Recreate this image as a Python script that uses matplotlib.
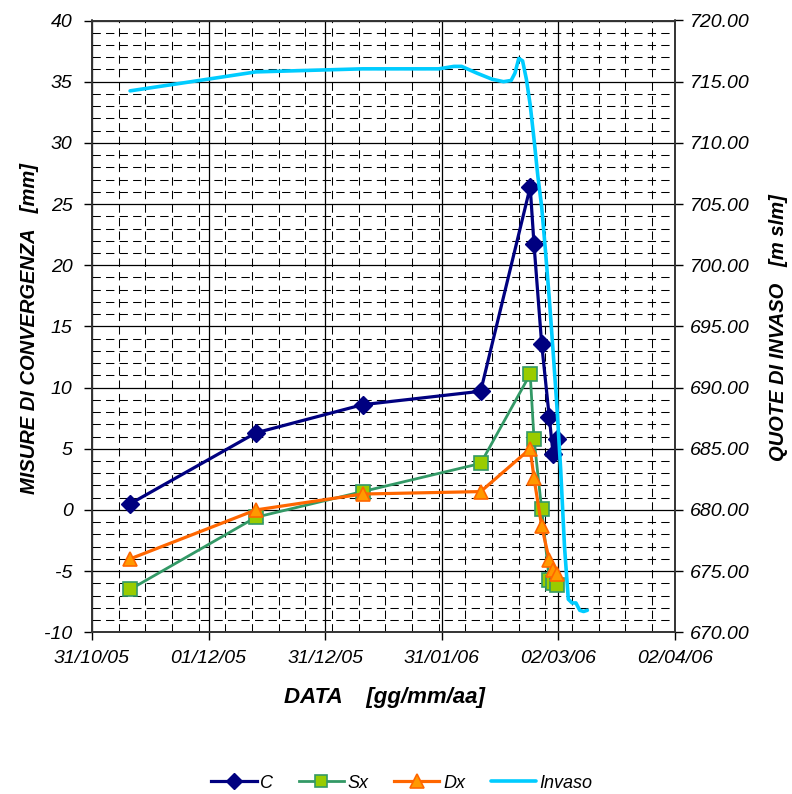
import matplotlib
matplotlib.use("Agg")
import matplotlib.pyplot as plt
import matplotlib.dates as mdates
import numpy as np
from datetime import datetime

plt.rcParams['font.family'] = ['Liberation Sans', 'DejaVu Sans']

# misure di convergenza [mm]
date_misure = ['10/11/05', '13/12/05', '10/01/06', '10/02/06', '23/02/06',
               '24/02/06', '26/02/06', '28/02/06', '01/03/06', '02/03/06']
conv_C = [0.5, 6.3, 8.6, 9.7, 26.4, 21.7, 13.6, 7.6, 4.6, 5.8]
conv_Sx = [-6.5, -0.6, 1.5, 3.8, 11.1, 5.8, 0.1, -5.7, -6.0, -6.1]
conv_Dx = [-4.0, 0.0, 1.3, 1.5, 5.0, 2.6, -1.3, -4.1, -4.9, -5.2]

# quote di invaso [m slm]
date_invaso = ['10/11/05', '25/11/05', '13/12/05', '10/01/06', '30/01/06',
               '03/02/06', '05/02/06', '09/02/06', '13/02/06', '16/02/06',
               '18/02/06', '19/02/06', '20/02/06', '21/02/06', '22/02/06',
               '23/02/06', '24/02/06', '25/02/06', '26/02/06', '27/02/06',
               '28/02/06', '01/03/06', '02/03/06', '03/03/06', '04/03/06',
               '05/03/06', '06/03/06', '07/03/06', '08/03/06', '09/03/06',
               '10/03/06']
quota_invaso = [714.25, 714.95, 715.8, 716.05, 716.05,
                716.25, 716.25, 715.7, 715.2, 715.0,
                715.1, 715.7, 716.9, 716.7, 715.2,
                713.1, 710.3, 707.3, 704.8, 701.2,
                697.3, 693.0, 688.5, 683.3, 677.0,
                672.7, 672.4, 672.4, 671.8, 671.7,
                671.8]

x_labels = ['31/10/05', '01/12/05', '31/12/05', '31/01/06', '02/03/06', '02/04/06']


def to_dates(lst):
    return [datetime.strptime(s, '%d/%m/%y') for s in lst]


t_mis = to_dates(date_misure)
t_inv = to_dates(date_invaso)

x0 = mdates.date2num(datetime(2005, 10, 31))
x1 = mdates.date2num(datetime(2006, 4, 2))

fig = plt.figure(figsize=(7.92, 7.94), dpi=100)
ax = fig.add_axes([92 / 792, 1 - 632.3 / 794, (675 - 92) / 792, (632.3 - 20.5) / 794])
ax2 = ax.twinx()

# griglia: principale continua, secondaria tratteggiata
ax.set_xlim(x0, x1)
ax.set_ylim(-10, 40)
major_x = np.linspace(x0, x1, 6)
minor_x = np.arange(x0, x1, 7.0)
for xv in minor_x:
    ax.axvline(xv, color='black', lw=0.75, ls=(0, (8, 5)), zorder=0.5)
for yv in np.arange(-10, 41, 1):
    if yv % 5 != 0:
        ax.axhline(yv, color='black', lw=0.75, ls=(0, (8, 5)), zorder=0.5)
for xv in major_x:
    ax.axvline(xv, color='black', lw=0.9, zorder=0.6)
for yv in np.arange(-10, 41, 5):
    ax.axhline(yv, color='black', lw=0.9, zorder=0.6)

ax.plot(t_mis, conv_C, color='#000080', lw=2.3, marker='D', ms=9,
        mfc='#000080', mec='#000080', label='C', zorder=3)
ax.plot(t_mis, conv_Sx, color='#339966', lw=2.0, marker='s', ms=9.5,
        mfc='#99CC00', mec='#339966', mew=1.2, label='Sx', zorder=3)
ax.plot(t_mis, conv_Dx, color='#FF6600', lw=2.3, marker='^', ms=10.5,
        mfc='#FF9900', mec='#FF6600', mew=1.2, label='Dx', zorder=3)
ax2.plot(t_inv, quota_invaso, color='#00CCFF', lw=2.6, label='Invaso',
         solid_joinstyle='round', solid_capstyle='round')

ax2.set_ylim(670, 720)
ax2.set_xlim(x0, x1)

ax.set_xticks(major_x)
ax.set_xticklabels(x_labels)
ax.set_yticks(np.arange(-10, 41, 5))
ax.set_yticklabels([str(v) for v in range(-10, 41, 5)])
ax2.set_yticks(np.arange(670, 721, 5))
ax2.set_yticklabels(['%.2f' % v for v in np.arange(670, 721, 5)])

for lab in ax.get_xticklabels() + ax.get_yticklabels() + ax2.get_yticklabels():
    lab.set_fontsize(14)
    lab.set_fontstyle('italic')
ax.tick_params(axis='x', direction='out', length=6, width=1, pad=7)
ax.tick_params(axis='y', direction='out', length=6, width=1, pad=8)
ax2.tick_params(axis='y', direction='out', length=6, width=1, pad=5)

for sp in list(ax.spines.values()) + list(ax2.spines.values()):
    sp.set_linewidth(1.2)
    sp.set_color('#333333')

lab_font = dict(fontsize=14.5, fontweight='bold', fontstyle='italic')
fig.text(384 / 792, 1 - 698 / 794, 'DATA    [gg/mm/aa]', ha='center', va='center',
         fontsize=16, fontweight='bold', fontstyle='italic')
fig.text(30 / 792, 1 - 328 / 794, 'MISURE DI CONVERGENZA   [mm]', rotation=90,
         ha='center', va='center', **lab_font)
fig.text(778 / 792, 1 - 328 / 794, 'QUOTE DI INVASO   [m slm]', rotation=90,
         ha='center', va='center', **lab_font)

h1, l1 = ax.get_legend_handles_labels()
h2, l2 = ax2.get_legend_handles_labels()
fig.legend(h1 + h2, l1 + l2, loc='center', bbox_to_anchor=(402 / 792, 1 - 783 / 794),
           ncol=4, frameon=False, handlelength=2.5, handletextpad=0.22,
           columnspacing=1.4, markerscale=0.9, prop=dict(size=13, style='italic'))

fig.savefig('out.png', dpi=100)
